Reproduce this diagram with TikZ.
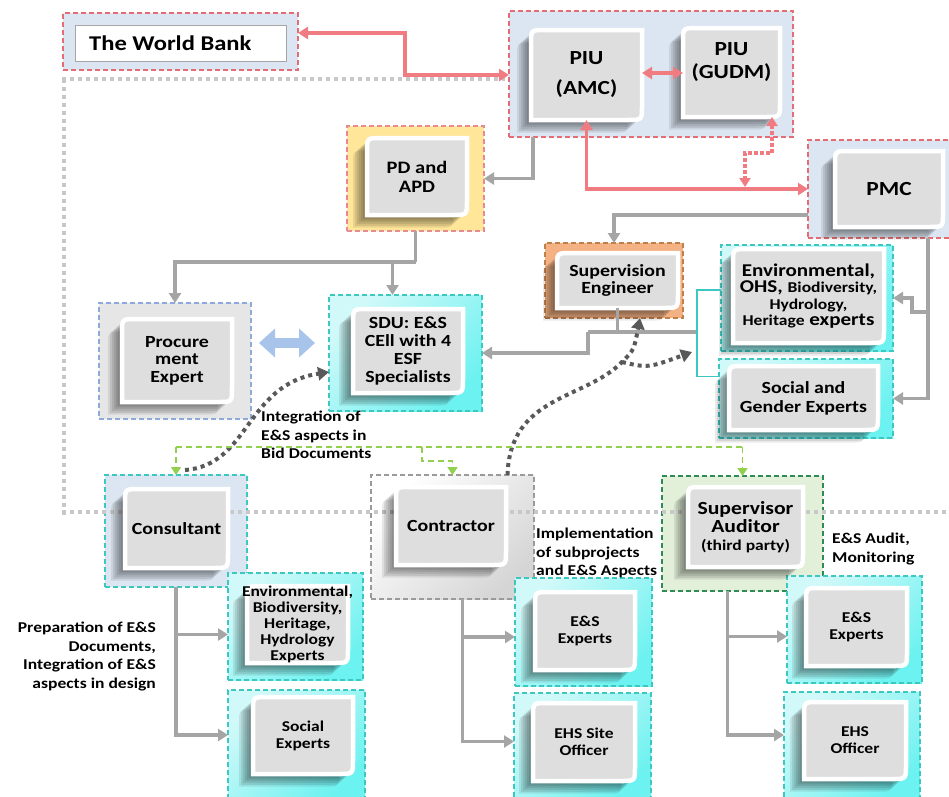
\documentclass[tikz,border=0pt]{standalone}
\usepackage{fontspec}
\setmainfont{Carlito}[FakeStretch=1.17]
\usetikzlibrary{arrows.meta}
\definecolor{redb}{HTML}{E46C75}
\definecolor{lblue}{HTML}{DCE6F2}
\definecolor{redarrow}{HTML}{F07C82}
\definecolor{garrow}{HTML}{A5A5A5}
\definecolor{gdot}{HTML}{C8C8C8}
\definecolor{ddot}{HTML}{595959}
\definecolor{gline}{HTML}{92D050}
\definecolor{yfill}{HTML}{FFE699}
\definecolor{ofill}{HTML}{F4B183}
\definecolor{oborder}{HTML}{C0804A}
\definecolor{cyanb}{HTML}{3CC8C0}
\definecolor{cyanf}{HTML}{6CF2F0}
\definecolor{cyanl}{HTML}{D2F9F9}
\definecolor{sgfill}{HTML}{E2EFD9}
\definecolor{sgborder}{HTML}{2E8B57}
\definecolor{cgfill}{HTML}{EDEDED}
\definecolor{cgborder}{HTML}{9A9A9A}
\definecolor{pfill}{HTML}{E7E6E6}
\definecolor{pborder}{HTML}{8EA9DB}
\definecolor{igrey}{HTML}{DEDEDE}
\definecolor{barrow}{HTML}{A9C4EB}
\newcommand{\fz}[2]{\fontsize{#1}{#2}\selectfont}
\tikzset{
  obase/.style={inner sep=0pt, outer sep=0pt, dash pattern=on 5pt off 3pt, line width=1.3pt},
  redbox/.style={obase, draw=redb, fill=lblue},
  ybox/.style={obase, draw=redb!80, fill=yfill},
  pbox/.style={obase, draw=pborder, fill=pfill},
  cbox/.style={obase, draw=cyanb, left color=cyanl, right color=cyanf, shading angle=45},
  orbox/.style={obase, draw=oborder, fill=ofill},
  lbbox/.style={obase, draw=cyanb, fill=lblue},
  gbox/.style={obase, draw=cgborder, left color=white, right color=cgfill!90!black, shading angle=45},
  sabox/.style={obase, draw=sgborder, fill=sgfill},
  itext/.style={inner sep=0pt, outer sep=0pt, align=center},
  lbl/.style={inner sep=0pt, font=\fz{15}{18.5}\bfseries},
  gdotline/.style={draw=gdot, line width=4pt, dash pattern=on 4pt off 4pt},
  redarr/.style={draw=redarrow, line width=3.5pt, arrows={Triangle[length=10pt,width=12pt]-Triangle[length=10pt,width=12pt]}},
  reddot/.style={draw=redarrow, line width=3.5pt, dash pattern=on 3.5pt off 2.5pt, arrows={Triangle[length=9pt,width=11pt]-Triangle[length=9pt,width=11pt]}},
  greyline/.style={draw=garrow, line width=3.5pt},
  greyarr/.style={greyline, arrows={-Triangle[length=10pt,width=12pt]}},
  bluearr/.style={draw=barrow, line width=10pt, arrows={Triangle[length=16pt,width=28pt]-Triangle[length=16pt,width=28pt]}},
  darkdot/.style={draw=ddot, line width=4pt, dash pattern=on 4pt off 4pt, arrows={-Triangle[length=11pt,width=13pt]}},
  greenline/.style={draw=gline, line width=1.6pt, dash pattern=on 6pt off 4pt},
  greenarr/.style={greenline, arrows={-Triangle[length=8pt,width=10pt]}},
  brkline/.style={draw=cyanb, line width=1.4pt},
}
% outer dashed box: style, name, x1, y1, x2, y2
\newcommand{\obox}[6]{%
  \node[#1, minimum width={(#5-#3)*1pt}, minimum height={(#6-#4)*1pt}] (#2) at ({(#3+#5)/2},{(#4+#6)/2}) {};}
% inner box: name, x1, y1, x2, y2, font size, baselineskip, text
\newcommand{\ibox}[8]{%
  \foreach \s in {2,4,...,14}{
    \fill[black, opacity=0.085, shift={(-\s,{0.9*\s})}] (#2,{#3+14}) .. controls (#2,#3) .. ({#2+14},#3) -- (#4,#3) -- (#4,{#5-14}) .. controls (#4,#5) .. ({#4-14},#5) -- (#2,#5) -- cycle;
  }
  \filldraw[draw=white, line width=4.5pt, fill=igrey] (#2,{#3+14}) .. controls (#2,#3) .. ({#2+14},#3) -- (#4,#3) -- (#4,{#5-14}) .. controls (#4,#5) .. ({#4-14},#5) -- (#2,#5) -- cycle;
  \node[itext, font=\fz{#6}{#7}\bfseries, minimum width={(#4-#2)*1pt}, minimum height={(#5-#3)*1pt}] (#1) at ({(#2+#4)/2},{(#3+#5)/2}) {#8};}
\begin{document}
\begin{tikzpicture}[x=1pt, y=-1pt]
\useasboundingbox (0,0) rectangle (949,796);
\fill[white] (0,0) rectangle (949,796);
% outer boxes
\obox{redbox}{wb}{63}{13}{298}{70}
\obox{redbox}{piu}{509}{11}{793}{137}
\obox{redbox}{pmc}{808}{140}{953}{238}
\obox{ybox}{pd}{347}{126}{484}{231}
\obox{pbox}{proc}{99}{303}{251}{419}
\obox{cbox}{sdu}{329}{295}{482}{411}
\obox{orbox}{sup}{545}{243}{683}{318}
\obox{cbox}{env}{721}{245}{893}{351}
\obox{cbox}{soc}{719}{359}{893}{438}
\obox{lbbox}{con}{105}{475}{247}{587}
\obox{gbox}{ctr}{371}{475}{534}{599}
\obox{sabox}{sa}{662}{476}{823}{591}
\obox{cbox}{cenv}{228}{573}{363}{680}
\obox{cbox}{csoc}{228}{690}{365}{800}
\obox{cbox}{kes}{515}{578}{652}{686}
\obox{cbox}{kehs}{514}{693}{651}{800}
\obox{cbox}{ses}{787}{576}{922}{683}
\obox{cbox}{sehs}{784}{692}{920}{800}
% grey dotted frame
\draw[gdotline] (62,79) -- (505,79);
\draw[gdotline] (64,79) -- (64,518);
\draw[gdotline] (62,512) -- (947,512);
% world bank
\node[draw=gray!70, fill=white, line width=0.6pt, inner sep=0pt, minimum width=211pt, minimum height=36pt] (wbi) at (180.5,43) {};
\node[anchor=west, inner sep=0pt, font=\fz{21}{22}\bfseries] (wbt) at (89,43) {The World Bank};
% inner boxes
\ibox{amc}{531}{30}{642}{120}{20}{30}{PIU\\(AMC)}
\ibox{gudm}{683}{28}{780}{117}{20}{23}{PIU\\(GUDM)\\\mbox{}}
\ibox{pmci}{835}{151}{943}{227}{20}{22}{PMC}
\ibox{pdi}{367}{138}{467}{215}{17.5}{19}{PD and\\APD}
\ibox{proci}{122}{319}{232}{402}{17}{17.5}{Procure\\ment\\Expert}
\ibox{sdui}{353}{309}{463}{393}{17}{17.7}{SDU: E\&S\\CEll with 4\\ESF\\Specialists}
\ibox{supi}{557}{253}{678}{308}{17}{17.5}{Supervision\\Engineer}
\ibox{envi}{733}{249}{884}{343}{18}{16.5}{Environmental,\\OHS, {\fz{15}{16.5}Biodiversity,}\\{\fz{15}{16.5}Hydrology,}\\{\fz{15}{16.5}Heritage} experts}
\ibox{soci}{729}{366}{878}{430}{17}{19}{Social and\\Gender Experts}
\ibox{coni}{125}{489}{228}{568}{17}{18}{Consultant}
\ibox{ctri}{396}{487}{506}{565}{17}{18}{Contractor}
\ibox{sai}{688}{487}{803}{567}{18.5}{18}{Supervisor\\Auditor\\{\fz{15}{18}(third party)}}
\ibox{cenvi}{247}{586}{348}{663}{15}{16}{Environmental,\\Biodiversity,\\Heritage,\\Hydrology\\Experts}
\ibox{csoci}{253}{697}{353}{774}{15}{17}{Social\\Experts}
\ibox{kesi}{535}{592}{635}{670}{15}{17}{E\&S\\Experts}
\ibox{kehsi}{533}{703}{635}{781}{15}{17}{EHS Site\\Officer}
\ibox{sesi}{806}{588}{907}{666}{15}{17}{E\&S\\Experts}
\ibox{sehsi}{804}{702}{906}{779}{15}{17}{EHS\\Officer}
% labels
\node[lbl, anchor=north west, align=left] (l1) at (261,411) {Integration of\\E\&S aspects in\\Bid Documents};
\node[lbl, anchor=north east, align=right] (l2) at (156,622) {Preparation of E\&S\\Documents,\\Integration of E\&S\\aspects in design};
\node[lbl, anchor=north west, align=left] (l3) at (536,528) {Implementation\\of subprojects\\and E\&S Aspects};
\node[lbl, anchor=north west, align=left] (l4) at (832,533) {E\&S Audit,\\Monitoring};
% coordinates
\coordinate (w1) at (405,33);
\coordinate (w2) at (405,75);
\coordinate (pd1) at (745,187);
\coordinate (j1) at (415.5,262);
\coordinate (pr) at ([xshift=-25]pmc.south east);
\coordinate (b1) at (588,332);
\coordinate (brk) at (697,332);
\coordinate (dm) at (622,362);
\coordinate (brkm) at (692,352);
\coordinate (gL) at (176,447);
\coordinate (gM) at (422,447);
\coordinate (gR) at (742.5,447);
% red connectors
\draw[redarr] (wb.east |- w1) -- (w1) -- (w2) -- (piu.west |- w2);
\draw[redarr] ([yshift=2]amc.east) -- ([yshift=2]amc.east -| gudm.west);
\draw[redarr] (amc.south) |- (pmc.west);
\draw[reddot] ([xshift=-8]gudm.south east) -- ++(0,36) -| (pd1);
% grey connectors
\draw[greyarr] ([xshift=24]piu.south west) |- (pd.east);
\draw[greyline] (pd.south) -- (j1);
\draw[greyarr] (j1) -| (proc.north);
\draw[greyarr] (j1) -| ([xshift=-13]sdu.north);
\draw[bluearr] ([xshift=8,yshift=18]proc.east) -- ([xshift=-14,yshift=10]sdu.west);
\draw[greyarr] ([yshift=-26]pmc.west) -| (sup.north);
\draw[greyarr] (pr) |- (soc.east);
\draw[greyarr] (pr |- 0,312) -| (912,298) -- (env.east);
\draw[greyline] (supi.south) -- (supi.south |- b1);
\draw[greyline] (b1) -- (brk);
\draw[greyarr] (b1) |- (sdu.east);
\draw[brkline] ([yshift=8]env.west) -| (brk) |- ([yshift=22]soc.west);
% dark dotted curves
\draw[darkdot] ([xshift=9,yshift=5]con.north) .. controls (250,465) and (245,385) .. ([yshift=-19]sdu.west);
\draw[darkdot] ([xshift=55]ctr.north) .. controls (510,395) and (585,400) .. (dm) .. controls (634,350) .. ([xshift=26]sup.south);
\draw[darkdot] (dm) .. controls (648,368) .. (brkm);
% green dashed
\draw[greenline] (gL) -- (gR);
\draw[greenarr] (gL) -- (con.north);
\draw[greenarr] (gR) -- (sa.north);
\draw[greenarr] (gM) -- (422,461) -| (ctr.north);
% branches
\draw[greyarr] (con.south) |- ([yshift=-8]cenv.west);
\draw[greyarr] (con.south) |- ([yshift=10]csoc.west);
\draw[greyarr] ([xshift=10]ctr.south) |- ([yshift=-5]kes.west);
\draw[greyarr] ([xshift=10]ctr.south) |- ([yshift=5]kehs.west);
\draw[greyarr] ([xshift=-15]sa.south) |- ([yshift=-7]ses.west);
\draw[greyarr] ([xshift=-15]sa.south) |- ([yshift=11]sehs.west);
\end{tikzpicture}
\end{document}
